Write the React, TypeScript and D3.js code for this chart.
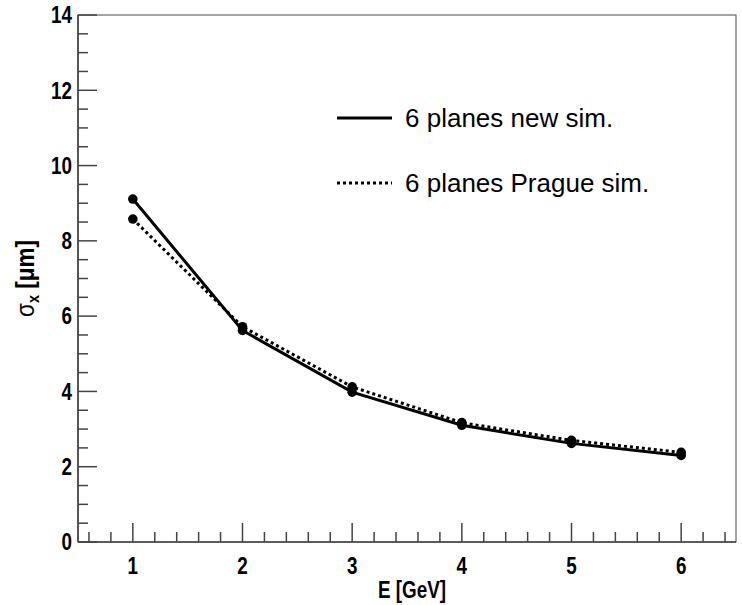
import React from "react";
import * as d3 from "d3";

const energies = [1, 2, 3, 4, 5, 6];
const newSim = [9.11, 5.62, 3.98, 3.1, 2.62, 2.3];
const pragueSim = [8.58, 5.72, 4.12, 3.17, 2.7, 2.38];
const xMajorTicks = [1, 2, 3, 4, 5, 6];
const yMajorTicks = [0, 2, 4, 6, 8, 10, 12, 14];
const legendLabels = ["6 planes new sim.", "6 planes Prague sim."];

const W = 742;
const H = 605;
const left = 78;
const right = 736;
const top = 15;
const bottom = 542;

export default function App() {
  const x = d3.scaleLinear().domain([0.5, 6.5]).range([left, right]);
  const y = d3.scaleLinear().domain([0, 14]).range([bottom, top]);
  const line = d3
    .line<number>()
    .x((_, i) => x(energies[i]))
    .y((d) => y(d));

  const xMinor = d3.range(0.6, 6.45, 0.2).filter((v) => Math.abs(v - Math.round(v)) > 0.05);
  const yMinor = d3.range(0.5, 14, 0.5).filter((v) => Math.abs(v / 2 - Math.round(v / 2)) > 0.05);
  const axisColor = "#444";
  const font = "'Liberation Sans', Arial, Helvetica, sans-serif";
  const sx = 0.82;

  return (
    <svg width={W} height={H} style={{ position: "absolute", left: 0, top: 0, background: "#fff" }}>
      <rect x={0} y={0} width={W} height={H} fill="#fff" />
      {/* frame */}
      <rect x={left} y={top} width={right - left} height={bottom - top} fill="none" stroke="#666" strokeWidth={1.2} />
      <line x1={left} x2={left} y1={top} y2={bottom} stroke={axisColor} strokeWidth={1.6} />
      <line x1={left} x2={right} y1={bottom} y2={bottom} stroke={axisColor} strokeWidth={1.6} />
      {/* y ticks */}
      {yMajorTicks.map((v) => (
        <line key={"ym" + v} x1={left} x2={left + 19} y1={y(v)} y2={y(v)} stroke={axisColor} strokeWidth={1.5} />
      ))}
      {yMinor.map((v) => (
        <line key={"yn" + v} x1={left} x2={left + 10} y1={y(v)} y2={y(v)} stroke={axisColor} strokeWidth={1.5} />
      ))}
      {yMajorTicks.map((v) => (
        <text
          key={"yl" + v}
          transform={`translate(${left - 6},${y(v)}) scale(${sx},1)`}
          dy="0.36em"
          textAnchor="end"
          fontFamily={font}
          fontWeight="bold"
          fontSize={23}
        >
          {v}
        </text>
      ))}
      {/* x ticks */}
      {xMajorTicks.map((v) => (
        <line key={"xm" + v} x1={x(v)} x2={x(v)} y1={bottom} y2={bottom - 19} stroke={axisColor} strokeWidth={1.5} />
      ))}
      {xMinor.map((v) => (
        <line key={"xn" + v.toFixed(1)} x1={x(v)} x2={x(v)} y1={bottom} y2={bottom - 10} stroke={axisColor} strokeWidth={1.5} />
      ))}
      {xMajorTicks.map((v) => (
        <text
          key={"xl" + v}
          transform={`translate(${x(v)},566) scale(${sx},1)`}
          dy="0.36em"
          textAnchor="middle"
          fontFamily={font}
          fontWeight="bold"
          fontSize={23}
        >
          {v}
        </text>
      ))}
      {/* axis titles */}
      <text
        transform={`translate(412,590) scale(${sx},1)`}
        dy="0.36em"
        textAnchor="middle"
        fontFamily={font}
        fontWeight="bold"
        fontSize={23}
      >
        E [GeV]
      </text>
      <text
        transform={`translate(25,${(top + bottom) / 2}) rotate(-90) scale(0.9,1)`}
        textAnchor="middle"
        fontFamily={font}
        fontSize={25}
        dy="0.36em"
      >
        <tspan fontWeight="normal">σ</tspan>
        <tspan fontSize={16} fontWeight="bold" dy="5">x</tspan>
        <tspan fontWeight="bold" dy="-5"> [μm]</tspan>
      </text>
      {/* data lines */}
      <path d={line(pragueSim) || ""} fill="none" stroke="#000" strokeWidth={3} strokeDasharray="3,3" />
      <path d={line(newSim) || ""} fill="none" stroke="#000" strokeWidth={3} />
      {pragueSim.map((v, i) => (
        <circle key={"pp" + i} cx={x(energies[i])} cy={y(v)} r={4.8} fill="#000" />
      ))}
      {newSim.map((v, i) => (
        <circle key={"np" + i} cx={x(energies[i])} cy={y(v)} r={4.8} fill="#000" />
      ))}
      {/* legend */}
      <line x1={337} x2={392} y1={118} y2={118} stroke="#000" strokeWidth={3} />
      <text x={405} y={118} dy="0.36em" fontFamily={font} fontSize={26}>
        {legendLabels[0]}
      </text>
      <line x1={337} x2={392} y1={183} y2={183} stroke="#000" strokeWidth={3} strokeDasharray="3,3" />
      <text x={405} y={183} dy="0.36em" fontFamily={font} fontSize={26}>
        {legendLabels[1]}
      </text>
    </svg>
  );
}
